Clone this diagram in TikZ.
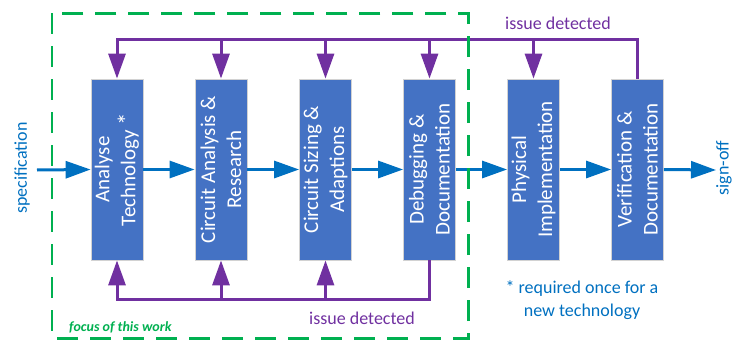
\documentclass[tikz,border=0pt]{standalone}
\usepackage{fontspec}
\setmainfont{Carlito}
\usetikzlibrary{arrows.meta}

\definecolor{boxblue}{HTML}{4472C4}
\definecolor{flowblue}{HTML}{0070C0}
\definecolor{loopviolet}{HTML}{7030A0}
\definecolor{focusgreen}{HTML}{00B050}

\tikzset{
  stage/.style={draw=gray!35, line width=0.8pt, fill=boxblue, minimum width=52pt,
    minimum height=181pt, inner sep=0pt},
  stagetext/.style={text=white, rotate=90, align=center,
    font=\fontsize{21}{26}\selectfont},
  flow/.style={draw=flowblue, line width=3pt,
    -{Triangle[length=25pt,width=17pt]}},
  loopline/.style={draw=loopviolet, line width=3pt},
  looparrow/.style={loopline, -{Triangle[length=25pt,width=17pt]}},
  focusframe/.style={draw=focusgreen, line width=2.5pt, dash pattern=on 21pt off 12pt},
  label/.style={font=\fontsize{18}{23}\selectfont, inner sep=0pt},
}

\begin{document}
\begin{tikzpicture}[x=1pt, y=-1pt]
  \useasboundingbox (0,0) rectangle (734,340);

  % process stages
  \foreach \n/\x in {1/117, 2/221, 3/325.5, 4/429.5, 5/533.5, 6/637.5}
    \node[stage] (s\n) at (\x,169.5) {};
  \node[stagetext] (t1) at (s1) {Analyse\\Technology {\fontsize{25}{26}\selectfont *}};
  \node[stagetext] (t2) at (s2) {Circuit Analysis \&\\Research};
  \node[stagetext] (t3) at (s3) {Circuit Sizing \&\\Adaptions};
  \node[stagetext] (t4) at (s4) {Debugging \&\\Documentation};
  \node[stagetext] (t5) at (s5) {Physical\\Implementation};
  \node[stagetext] (t6) at (s6) {Verification \&\\Documentation};

  % main flow
  \coordinate (in) at (37,170);
  \coordinate (out) at (716,170);
  \draw[flow] (in) -- (s1.west);
  \foreach \a/\b in {1/2, 2/3, 3/4, 4/5, 5/6}
    \draw[flow] (s\a.east) -- (s\b.west);
  \draw[flow] (s6.east) -- (out);

  % feedback loops
  \coordinate (toprail) at (0,39);
  \coordinate (botrail) at (0,299);
  \draw[looparrow] (s6.north) |- (s1.north |- toprail) -- (s1.north);
  \foreach \n in {2,3,4,5}
    \draw[looparrow] (s\n.north |- toprail) -- (s\n.north);
  \draw[looparrow] (s4.south) |- (s1.south |- botrail) -- (s1.south);
  \foreach \n in {2,3}
    \draw[looparrow] (s\n.south |- botrail) -- (s\n.south);

  % labels
  \node[label, text=loopviolet] (issuetop) at (558,23) {issue detected};
  \node[label, text=loopviolet] (issuebot) at (362,318) {issue detected};
  \node[label, text=flowblue, align=center] (note) at (582,300)
    {* required once for a\\new technology};
  \node[label, text=flowblue, rotate=90] (spec) at (22,168) {specification};
  \node[label, text=flowblue, rotate=90] (signoff) at (724,168) {sign-off};
  \node[inner sep=0pt, anchor=west, text=focusgreen,
    font=\fontsize{14}{17}\selectfont\bfseries\itshape] (focus) at (69,327)
    {focus of this work};

  % focus frame
  \draw[focusframe] (52,13.3) rectangle (468.7,338.3);
\end{tikzpicture}
\end{document}
